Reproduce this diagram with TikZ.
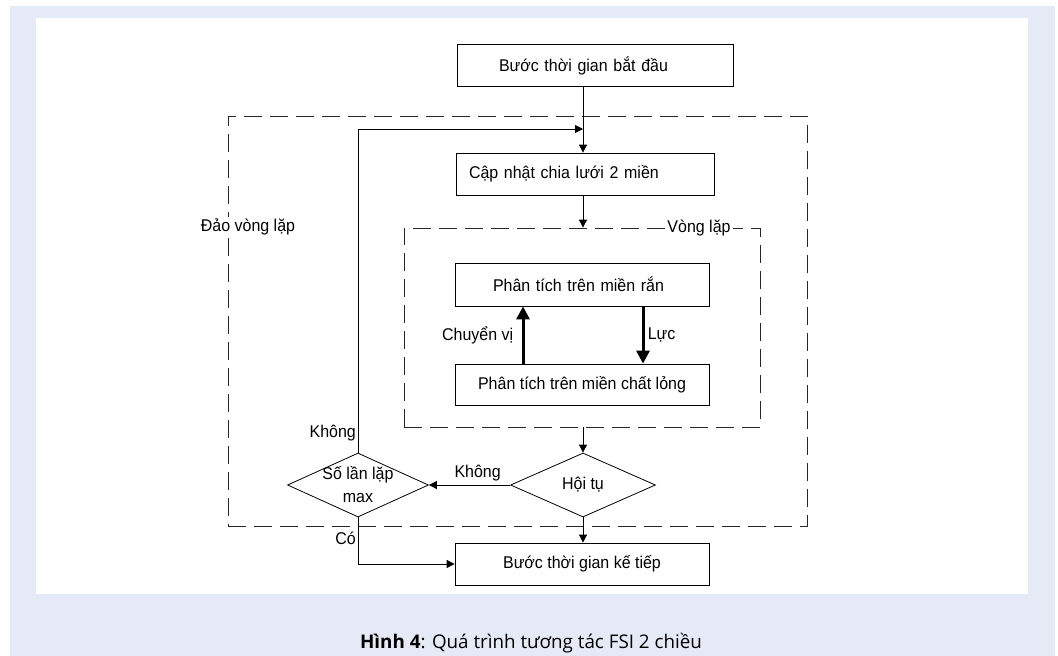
\documentclass[tikz,border=0pt]{standalone}
\usepackage{fontspec}
\setmainfont[FakeStretch=0.94]{Liberation Sans}
\newfontfamily\capfont{Open Sans}
\usetikzlibrary{arrows.meta,shapes.geometric,positioning}
\definecolor{panel}{HTML}{E6EAF6}
\tikzset{>={Triangle[length=8pt,width=8pt]}}
\tikzset{
  box/.style={draw, line width=0.8pt, minimum height=42pt, inner ysep=0pt},
  dec/.style={draw, line width=0.8pt, diamond, aspect=2.2, inner sep=-10pt,
    minimum width=145pt, minimum height=64pt, align=center},
  grp/.style={draw=black!85, line width=0.8pt, dash pattern=on 18pt off 8pt,
    inner sep=0pt},
  tag/.style={fill=white, inner sep=2pt},
  link/.style={->, line width=0.8pt},
  force/.style={-{Triangle[length=13pt,width=13pt]}, line width=3pt}
}

\begin{document}
\begin{tikzpicture}[x=1pt,y=-1pt,font=\fontsize{17}{23}\selectfont]
\useasboundingbox (0,0) rectangle (1058,656);
\fill[panel] (10,6) rectangle (1055,656);
\fill[white] (36,18) rectangle (1028,594);

% dashed groups
\node[grp, minimum width=579pt, minimum height=410pt] (outer) at (517.5,321) {};
\node[grp, minimum width=356pt, minimum height=199pt] (loop) at (582,327.5) {};
\node[tag] (outerlbl) at (248,227) {Đảo vòng lặp};
\node[tag] (looplbl) at (699,228) {Vòng lặp};

% boxes
\node[box, align=left, text width=192pt, inner xsep=42pt] (start) at (595,65.5)
  {Bước thời gian bắt đầu};
\node[box, align=left, text width=232pt, inner xsep=13pt] (mesh) at (585,174)
  {Cập nhật chia lưới 2 miền};
\node[box, align=left, text width=178pt, inner xsep=38pt, minimum height=43pt]
  (solid) at (582,284.5) {Phân tích trên miền rắn};
\node[box, minimum width=254pt, minimum height=41pt] (fluid) at (582,384.5)
  {Phân tích trên miền chất lỏng};
\node[box, minimum width=254pt] (next) at (582,564) {Bước thời gian kế tiếp};

% decisions
\node[dec] (conv) at (583,485) {Hội tụ};
\node[dec, minimum width=141pt] (maxit) at (358,485) {Số lần lặp\\max};

\coordinate (spine) at (583,0);
\coordinate (back) at (583,129);

% connectors
\draw[link] (start.south -| spine) -- (mesh.north -| spine);
\draw[link] (mesh.south -| spine) -- (loop.north -| spine);
\draw[force] ([xshift=-59pt]fluid.north) -- ([xshift=-59pt]solid.south)
  node[midway, left=5pt] {Chuyển vị};
\draw[force] ([xshift=61pt]solid.south) -- ([xshift=61pt]fluid.north)
  node[midway, right] {Lực};
\draw[link] (loop.south -| conv.north) -- (conv.north);
\draw[link] (conv.west) -- (maxit.east) node[pos=0.4, above] {Không};
\draw[link] (maxit.north) |- (back);
\draw[link] (maxit.south) |- (next.west);
\draw[link] (conv.south) -- (conv.south |- next.north);
\node[left, inner sep=2pt] (nolbl) at ([yshift=20pt]maxit.north) {Không};
\node[left, inner sep=2pt] (yeslbl) at ([yshift=-21pt]maxit.south) {Có};

% caption
\node[font=\capfont\fontsize{18.8}{22}\selectfont] (cap) at (531,643)
  {\textbf{Hình 4}: Quá trình tương tác FSI 2 chiều};
\end{tikzpicture}
\end{document}
